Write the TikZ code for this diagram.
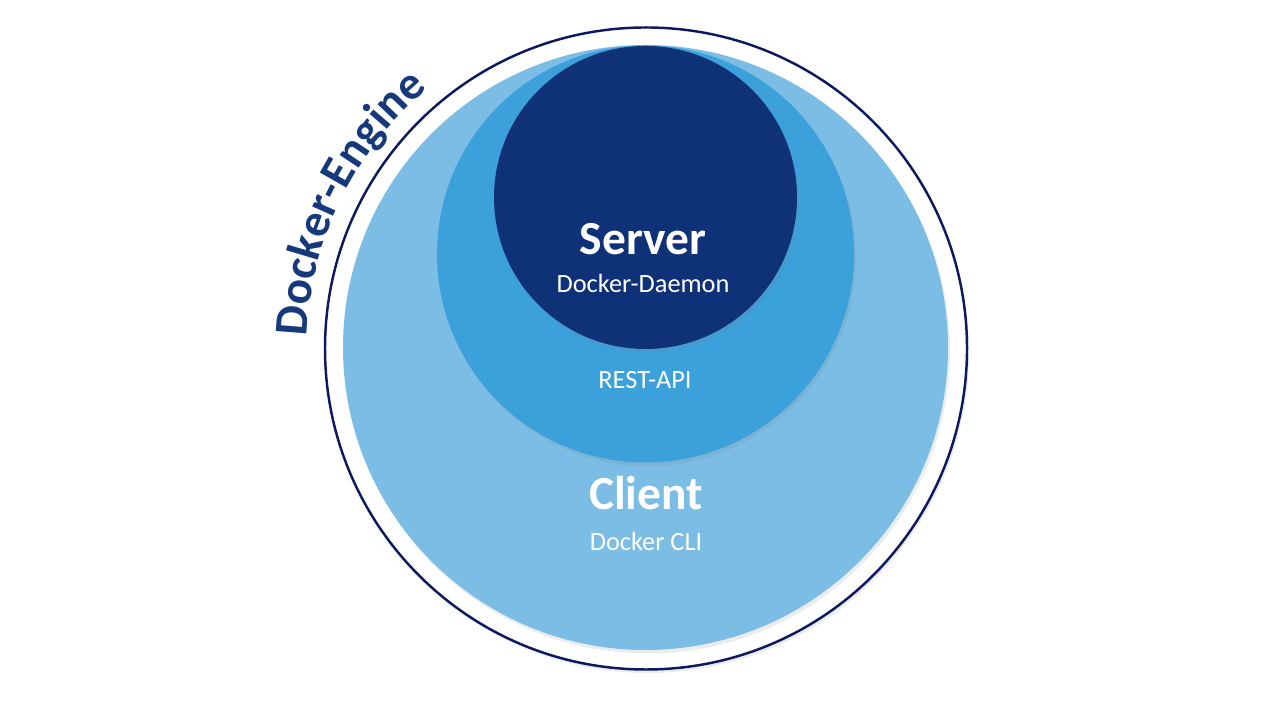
\documentclass[tikz,border=0pt]{standalone}
\usepackage{fontspec}
\setmainfont{Carlito}
\usetikzlibrary{shadows,decorations.text}
\definecolor{clientblue}{HTML}{7BBDE4}
\definecolor{apiblue}{HTML}{3CA0DA}
\definecolor{serverblue}{HTML}{0F3177}
\definecolor{ringnavy}{HTML}{0A1A5C}
\definecolor{labelnavy}{HTML}{15397A}
\newcommand{\enginefont}{\color{labelnavy}\bfseries\fontsize{13.4}{15}\selectfont}
\begin{document}
\begin{tikzpicture}
	\tikzset{
		layer/.style={circle, inner sep=0, minimum size=#1,
				drop shadow={shadow xshift=0.02, shadow yshift=-0.035, opacity=0.15}},
		title/.style={anchor=base, text=white, font=\bfseries\fontsize{13.5}{16}\selectfont},
		subtitle/.style={anchor=base, text=white, font=\fontsize{7.5}{9}\selectfont},
	}
	\useasboundingbox (0,0) rectangle (12.8,7.2);
	% engine ring
	\node[layer=6.42cm, fill=white, draw=ringnavy, line width=0.7pt] (engine) at (6.46,3.715) {};
	% nested circles, all touching at the top
	\node[layer=6.05cm, fill=clientblue] (client) at (6.455,3.725) {};
	\node[layer=4.17cm, fill=apiblue] (restapi) at (6.455,4.66) {};
	\node[layer=3.03cm, fill=serverblue] (server) at (6.455,5.225) {};
	% labels
	\node[title] (servertitle) at (6.43,4.65) {Server};
	\node[subtitle] (serversub) at (6.43,4.27) {Docker-Daemon};
	\node[subtitle] (apisub) at (6.45,3.31) {REST-API};
	\node[title] (clienttitle) at (6.46,2.10) {Client};
	\node[subtitle] (clientsub) at (6.46,1.69) {Docker CLI};
	% curved engine label
	\path[decorate, decoration={text along path, text align=center,
				text={|\enginefont|Docker-Engine}}]
		([shift={(180:3.39)}]engine.center) arc[start angle=180, end angle=128, radius=3.39];
\end{tikzpicture}
\end{document}
